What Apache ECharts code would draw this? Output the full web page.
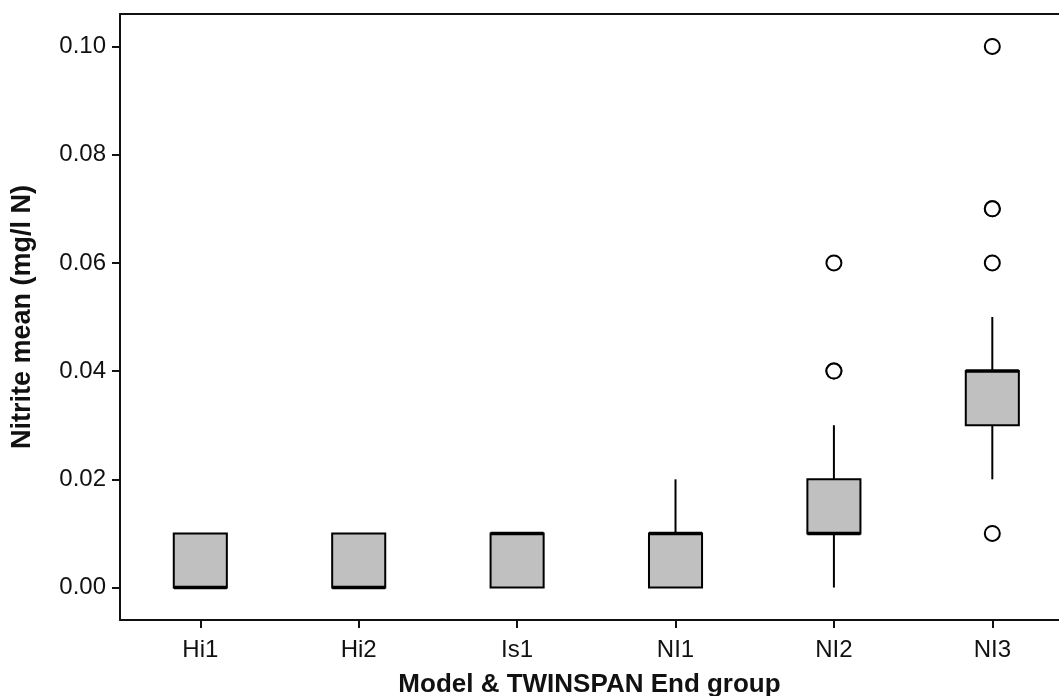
<!DOCTYPE html>
<html>
<head>
<meta charset="utf-8">
<script src="https://cdn.jsdelivr.net/npm/echarts@6/dist/echarts.min.js"></script>
<style>
  html, body { margin: 0; padding: 0; background: #fff; }
  #chart { width: 1059px; height: 696px; }
</style>
</head>
<body>
<div id="chart"></div>
<script>
// ---- data ----
const categories = ['Hi1', 'Hi2', 'Is1', 'NI1', 'NI2', 'NI3'];
const whiskerLow  = [0.00, 0.00, 0.00, 0.00, 0.00, 0.02];
const quartile1   = [0.00, 0.00, 0.00, 0.00, 0.01, 0.03];
const medians     = [0.00, 0.00, 0.01, 0.01, 0.01, 0.04];
const quartile3   = [0.01, 0.01, 0.01, 0.01, 0.02, 0.04];
const whiskerHigh = [0.01, 0.01, 0.01, 0.02, 0.03, 0.05];
const outlierGroup = ['NI2', 'NI2', 'NI2', 'NI3', 'NI3', 'NI3', 'NI3', 'NI3'];
const outlierValue = [0.04, 0.04, 0.06, 0.01, 0.06, 0.07, 0.07, 0.10];
const yTicks = [0.00, 0.02, 0.04, 0.06, 0.08, 0.10];

// ---- build ----
const catPos = categories.map((c, i) => i + 1);
const boxData = categories.map((c, i) => [i + 1, whiskerLow[i], quartile1[i], medians[i], quartile3[i], whiskerHigh[i]]);
const outlierData = outlierGroup.map((g, i) => [categories.indexOf(g) + 1, outlierValue[i]]);

const BOX_FRAC = 0.335;
const FONT = '"Liberation Sans", Arial, sans-serif';

function renderBox(params, api) {
  const x = api.value(0);
  const lo = api.coord([x, api.value(1)]);
  const b1 = api.coord([x, api.value(2)]);
  const md = api.coord([x, api.value(3)]);
  const b3 = api.coord([x, api.value(4)]);
  const hi = api.coord([x, api.value(5)]);
  const hw = api.size([BOX_FRAC, 0])[0] / 2;
  const ls = { stroke: '#000', lineWidth: 2, fill: null };
  return {
    type: 'group',
    children: [
      { type: 'line', shape: { x1: lo[0], y1: lo[1], x2: b1[0], y2: b1[1] }, style: ls },
      { type: 'line', shape: { x1: b3[0], y1: b3[1], x2: hi[0], y2: hi[1] }, style: ls },
      { type: 'rect', shape: { x: b1[0] - hw, y: b3[1], width: 2 * hw, height: b1[1] - b3[1] },
        style: { fill: '#c0c0c0', stroke: '#000', lineWidth: 2 } },
      { type: 'line', shape: { x1: md[0] - hw, y1: md[1], x2: md[0] + hw, y2: md[1] },
        style: { stroke: '#000', lineWidth: 3.5 } }
    ]
  };
}

const chart = echarts.init(document.getElementById('chart'), null, { renderer: 'canvas' });
chart.setOption({
  animation: false,
  backgroundColor: '#fff',
  grid: { left: 120, right: 0, top: 14, bottom: 76, containLabel: false, outerBoundsMode: 'none' },
  xAxis: [{
    type: 'value',
    min: 0.493, max: 6.421,
    name: 'Model & TWINSPAN End group',
    nameLocation: 'middle',
    nameGap: 52,
    nameTextStyle: { fontFamily: FONT, fontWeight: 'bold', fontSize: 26, color: '#111' },
    axisLine: { show: true, onZero: false, lineStyle: { color: '#111', width: 2 } },
    axisTick: { show: true, length: 8, inside: false, customValues: catPos, lineStyle: { color: '#111', width: 2 } },
    axisLabel: { show: true, customValues: catPos, margin: 18, fontFamily: FONT, fontSize: 24, color: '#111',
      formatter: v => categories[Math.round(v) - 1] || '' },
    splitLine: { show: false }
  }, {
    type: 'value',
    position: 'top',
    min: 0.493, max: 6.421,
    axisLine: { show: true, onZero: false, lineStyle: { color: '#111', width: 2 } },
    axisTick: { show: false },
    axisLabel: { show: false },
    splitLine: { show: false }
  }],
  yAxis: {
    type: 'value',
    min: -0.006, max: 0.106,
    name: 'Nitrite mean (mg/l N)',
    nameLocation: 'middle',
    nameGap: 84,
    nameTextStyle: { fontFamily: FONT, fontWeight: 'bold', fontSize: 27, color: '#111' },
    axisLine: { show: true, onZero: false, lineStyle: { color: '#111', width: 2 } },
    axisTick: { show: true, length: 8, inside: false, customValues: yTicks, lineStyle: { color: '#111', width: 2 } },
    axisLabel: { show: true, customValues: yTicks, margin: 14, fontFamily: FONT, fontSize: 24, color: '#111',
      formatter: v => v.toFixed(2) },
    splitLine: { show: false }
  },
  series: [{
    type: 'custom',
    renderItem: renderBox,
    data: boxData,
    encode: { x: 0, y: [1, 2, 3, 4, 5] },
    z: 2
  }, {
    type: 'scatter',
    data: outlierData,
    symbol: 'circle',
    symbolSize: 15,
    itemStyle: { color: '#fff', borderColor: '#000', borderWidth: 2, opacity: 1 },
    z: 3
  }]
});
</script>
</body>
</html>
